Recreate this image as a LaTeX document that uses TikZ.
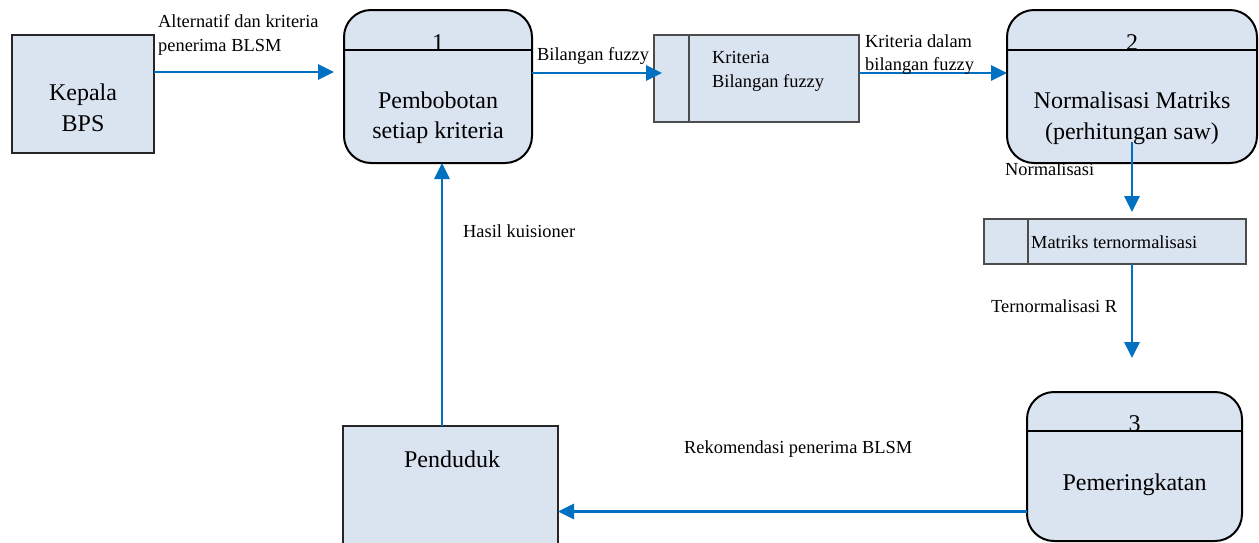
\documentclass[tikz,border=0pt]{standalone}
\usepackage{fontspec}
\setmainfont{Liberation Serif}
\usetikzlibrary{arrows.meta,calc}
\definecolor{boxfill}{RGB}{218,227,240}
\definecolor{flowblue}{RGB}{0,112,192}
\begin{document}
\begin{tikzpicture}[x=1pt,y=-1pt,
  entity/.style={draw=black!85, line width=1.2pt, fill=boxfill, inner sep=0pt, outer sep=0pt},
  proc/.style={draw=black, line width=2pt, fill=boxfill, rounded corners=27pt, inner sep=0pt, outer sep=0pt},
  store/.style={draw=black!70, line width=1.5pt, fill=boxfill, inner sep=0pt, outer sep=0pt},
  divider/.style={draw=black, line width=2pt},
  flow/.style={draw=flowblue, line width=2.8pt, -{Triangle[length=16pt,width=15pt]}},
  big/.style={font=\fontsize{24}{31}\selectfont, inner sep=0pt, anchor=base},
  small/.style={font=\fontsize{18.4}{24}\selectfont, inner sep=0pt, anchor=base west},
]
\useasboundingbox (0,0) rectangle (1259,542);

% external entities
\node[entity, minimum width=142pt, minimum height=118pt] (kepala) at (83,94) {};
\node[entity, minimum width=215pt, minimum height=128pt] (pend) at (450.5,490) {};

% processes
\node[proc, minimum width=188pt, minimum height=153pt] (p1) at (438,86.5) {};
\node[proc, minimum width=250pt, minimum height=153pt] (p2) at (1132,86.5) {};
\node[proc, minimum width=215pt, minimum height=149pt] (p3) at (1134.5,466.5) {};
\draw[divider] ([yshift=-40pt]p1.north west) -- ([yshift=-40pt]p1.north east);
\draw[divider] ([yshift=-40pt]p2.north west) -- ([yshift=-40pt]p2.north east);
\draw[divider] ([yshift=-39pt]p3.north west) -- ([yshift=-39pt]p3.north east);

% data stores
\node[store, minimum width=205pt, minimum height=87pt] (s1) at (756.5,78.5) {};
\node[store, minimum width=262pt, minimum height=45pt] (s2) at (1115,241.5) {};
\draw[store] ([xshift=35pt]s1.north west) -- ([xshift=35pt]s1.south west);
\draw[store] ([xshift=44pt]s2.north west) -- ([xshift=44pt]s2.south west);

% texts in boxes
\node[big] (tkep1) at (83,100) {Kepala};
\node[big] (tkep2) at (83,131) {BPS};
\node[big] (tpend) at (452,467) {Penduduk};
\node[big] (n1) at ([yshift=-40pt]p1.north) {1};
\node[big] (tp1a) at (438,108) {Pembobotan};
\node[big] (tp1b) at (438,138) {setiap kriteria};
\node[big] (n2) at ([yshift=-40pt]p2.north) {2};
\node[big] (tp2a) at (1132,108) {Normalisasi Matriks};
\node[big] (tp2b) at (1132,139) {(perhitungan saw)};
\node[big] (n3) at ([yshift=-39pt]p3.north) {3};
\node[big] (tp3) at (1134.5,490) {Pemeringkatan};
\node[small] (ts1a) at (712,63) {Kriteria};
\node[small] (ts1b) at (712,87) {Bilangan fuzzy};
\node[small] (ts2) at (1031,248) {Matriks ternormalisasi};

% data flows
\draw[flow] ([yshift=22pt]kepala.east) coordinate (f1) -- ($(f1 -| p1.west)+(-10,0)$);
\draw[flow] ([yshift=13.5pt]p1.east) coordinate (f2) -- ($(f2 -| s1.west)+(8,0)$);
\draw[flow] ([yshift=5.5pt]s1.east) coordinate (f3) -- (f3 -| p2.west);
\draw[flow] ([yshift=21pt]p2.south) coordinate (f4) -- ($(f4 |- s2.north)+(0,-7)$);
\draw[flow] (s2.south -| f4) -- ($(p3.north -| f4)+(0,-34)$);
\draw[flow] ([xshift=-8.5pt]pend.north) coordinate (f6) -- (f6 |- p1.south);
\draw[flow] ([yshift=-45pt]p3.west) coordinate (f7) -- (f7 -| pend.east);

% flow labels
\node[small] (l1a) at (158,27) {Alternatif dan kriteria};
\node[small] (l1b) at (158,51) {penerima BLSM};
\node[small] (l2) at (537,60) {Bilangan fuzzy};
\node[small] (l3a) at (865,47) {Kriteria dalam};
\node[small] (l3b) at (865,70) {bilangan fuzzy};
\node[small] (l4) at (1005,175) {Normalisasi};
\node[small] (l5) at (991,312) {Ternormalisasi R};
\node[small] (l6) at (463,237) {Hasil kuisioner};
\node[small] (l7) at (684,453) {Rekomendasi penerima BLSM};
\end{tikzpicture}
\end{document}
